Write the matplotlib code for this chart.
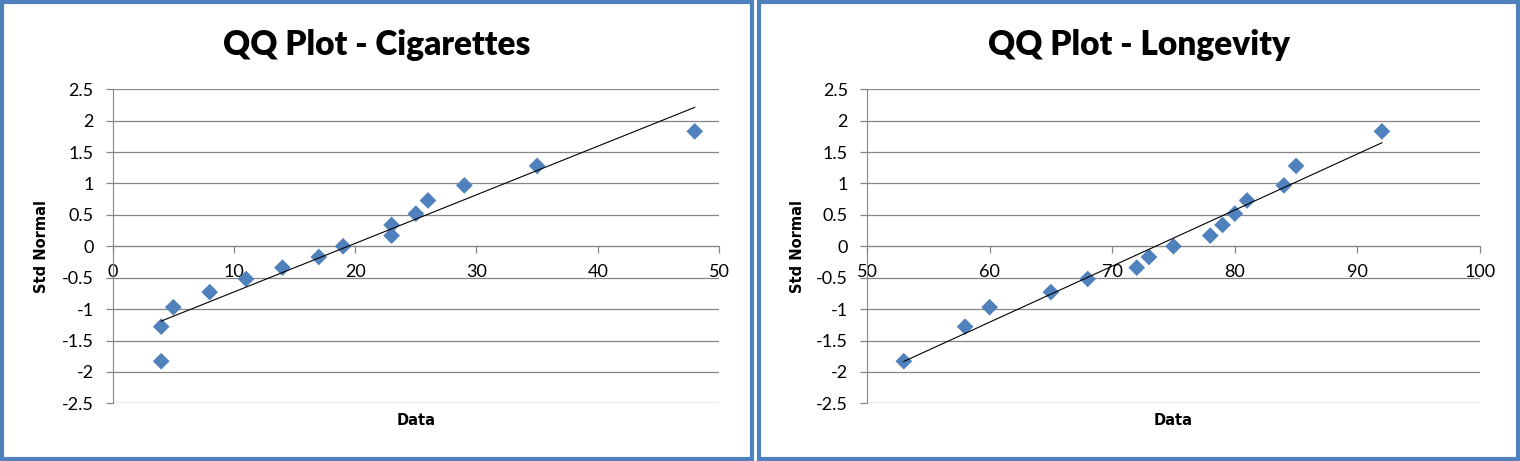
import numpy as np
import matplotlib
matplotlib.use("Agg")
import matplotlib.pyplot as plt
from matplotlib.patches import Rectangle

# std normal quantiles (same for both data sets, n = 15)
std_normal = [-1.83, -1.28, -0.97, -0.73, -0.52, -0.34, -0.17, 0.0,
              0.17, 0.34, 0.52, 0.73, 0.97, 1.28, 1.83]

# sorted data
cigarettes = [4, 4, 5, 8, 11, 14, 17, 19, 23, 23, 25, 26, 29, 35, 48]
longevity = [53, 58, 60, 65, 68, 72, 73, 75, 78, 79, 80, 81, 84, 85, 92]

titles = ["QQ Plot - Cigarettes", "QQ Plot - Longevity"]
x_ranges = [(0, 50), (50, 100)]
y_ticks = [-2.5, -2, -1.5, -1, -0.5, 0, 0.5, 1, 1.5, 2, 2.5]

plt.rcParams["font.family"] = ["Lato", "DejaVu Sans"]
plt.rcParams["axes.unicode_minus"] = False

W, H = 1520, 461
fig = plt.figure(figsize=(W / 100, H / 100), dpi=100)

blue = "#4F81BD"
gray = "#868686"

# panel frames and axes boxes, in pixels
frames = [(2, 752), (759, 1518)]
axes_px = [(112.7, 719), (867, 1480)]
top_px, bottom_px = 89.3, 403.3
ylabel_x = [-0.117, -0.113]


def drawPanel(i, data):
    fx0, fx1 = frames[i]
    fig.patches.append(Rectangle((fx0 / W, 2 / H), (fx1 - fx0) / W, (H - 4) / H,
                                 transform=fig.transFigure, fill=False,
                                 edgecolor=blue, linewidth=3))
    fig.text((fx0 + fx1) / 2 / W, 1 - 45 / H, titles[i], ha="center", va="center",
             fontsize=24, fontweight="heavy")

    ax0, ax1 = axes_px[i]
    ax = fig.add_axes([ax0 / W, (H - bottom_px) / H, (ax1 - ax0) / W,
                       (bottom_px - top_px) / H])

    ax.scatter(data, std_normal, marker="D", s=8.5 ** 2, color=blue,
               edgecolors="none", zorder=3)

    # linear trendline, like Excel
    slope, intercept = np.polyfit(data, std_normal, 1)
    xs = np.array([min(data), max(data)])
    ax.plot(xs, slope * xs + intercept, color="black", linewidth=0.8, zorder=4)

    ax.set_xlim(*x_ranges[i])
    ax.set_ylim(-2.5, 2.5)
    ax.set_yticks(y_ticks)
    ax.set_yticklabels([f"{v:g}" for v in y_ticks])
    ax.set_xticks(np.arange(x_ranges[i][0], x_ranges[i][1] + 1, 10))

    ax.grid(axis="y", color=gray, linewidth=0.9)
    ax.set_axisbelow(True)
    for side in ["top", "right"]:
        ax.spines[side].set_visible(False)
    ax.spines["left"].set_color(gray)
    ax.spines["bottom"].set_color(gray)
    ax.spines["bottom"].set_position(("data", 0))
    ax.tick_params(axis="both", color=gray, length=4.7, width=0.9,
                   labelsize=13, pad=9)
    ax.tick_params(axis="x", pad=8)

    ax.set_xlabel("Data", fontsize=10.5, fontweight="bold", va="center",
                  family="DejaVu Sans")
    ax.xaxis.set_label_coords(0.5, -0.056)
    ax.set_ylabel("Std Normal", fontsize=10.5, fontweight="bold", va="center",
                  family="DejaVu Sans")
    ax.yaxis.set_label_coords(ylabel_x[i], 0.5)


drawPanel(0, cigarettes)
drawPanel(1, longevity)

fig.savefig("out.png", dpi=100)
